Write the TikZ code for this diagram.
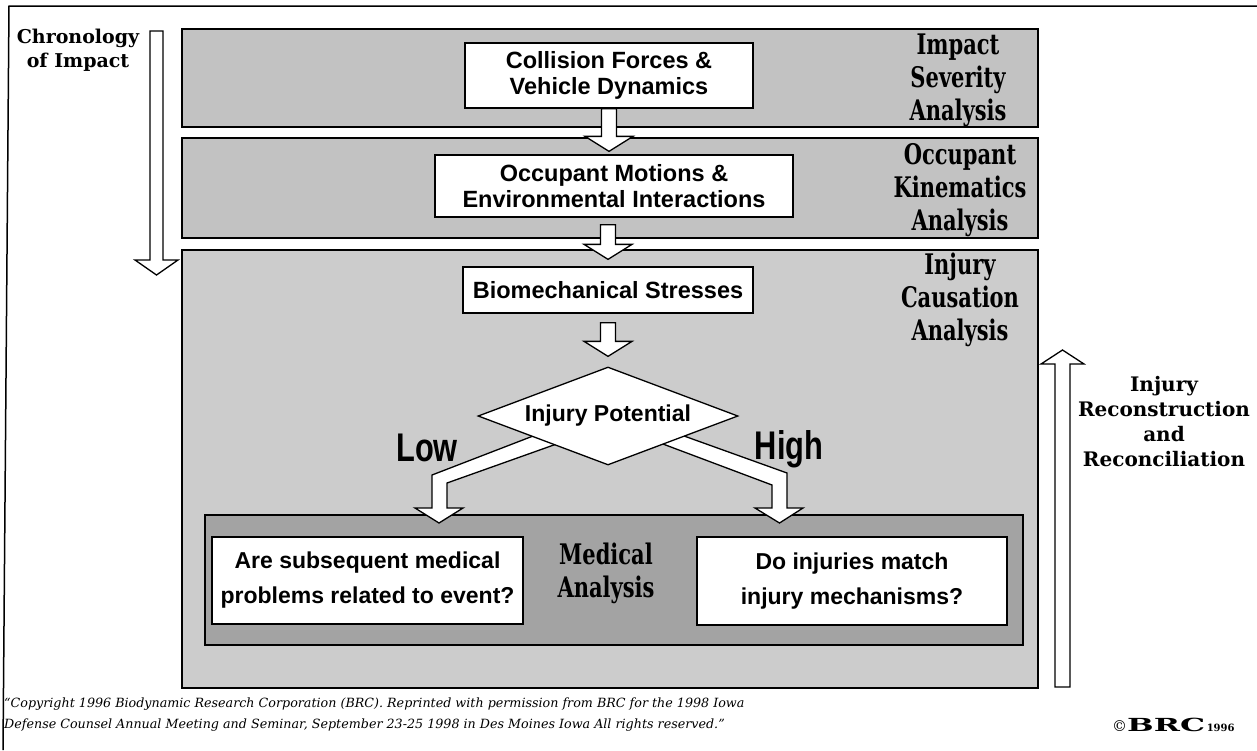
\documentclass[tikz,border=0pt]{standalone}
\usepackage{fontspec}
\usepackage{graphicx}
\setmainfont{DejaVu Serif}
\newfontfamily\lsans{Liberation Sans}
\usetikzlibrary{shapes.geometric,calc}
\definecolor{pA}{gray}{0.76}
\definecolor{pB}{gray}{0.80}
\definecolor{pM}{gray}{0.64}
\newcommand{\tall}[1]{\scalebox{1}[1.35]{#1}}
\newcommand{\blkdown}[5]{%
  \draw[barrow] let \p1=(#1.south), \p2=(#2.north), \p3=(#3.center) in
    (\x3-7.5pt,\y1-#4) -- (\x3+7.5pt,\y1-#4) -- (\x3+7.5pt,\y2+#5+15pt)
    -- (\x3+24pt,\y2+#5+15pt) -- (\x3,\y2+#5) -- (\x3-24pt,\y2+#5+15pt)
    -- (\x3-7.5pt,\y2+#5+15pt) -- cycle;}
\begin{document}
\begin{tikzpicture}[x=1pt,y=-1pt,
  panel/.style={draw, line width=2.4pt, fill=pA, minimum width=856pt, inner sep=0pt},
  medbox/.style={draw, line width=2pt, fill=pM, minimum width=818pt, minimum height=130pt, inner sep=0pt},
  wbox/.style={draw, line width=1.3pt, fill=white, inner sep=0pt, align=center,
     font=\lsans\bfseries\fontsize{23.5}{26}\selectfont},
  qbox/.style={wbox, font=\lsans\bfseries\fontsize{23}{35}\selectfont},
  lab/.style={align=center, inner sep=0pt, font=\bfseries\fontsize{21}{33}\selectfont},
  side/.style={align=center, inner sep=0pt},
  barrow/.style={draw, line width=1.3pt, fill=white, line join=miter},
  frame/.style={draw, line width=1.5pt}
]
\useasboundingbox (0,0) rectangle (1257,750);
\fill[white] (0,0) rectangle (1257,750);
% outer frame
\coordinate (fr1) at (1257,6);
\coordinate (fr2) at (9,6);
\coordinate (fr3) at (3,750);
\draw[frame] (fr1) -- (fr2) -- (fr3);

% panels
\node[panel, minimum height=98pt] (p1) at (610,78) {};
\node[panel, minimum height=100pt] (p2) at (610,188) {};
\node[panel, fill=pB, line width=1.8pt, minimum height=438pt] (p3) at (610,469) {};
\node[medbox] (med) at (614,580) {};

% white boxes
\node[wbox, minimum width=288pt, minimum height=65pt] (b1) at (609,75.5) {Collision Forces \&\\Vehicle Dynamics};
\node[wbox, minimum width=358pt, minimum height=62pt] (b2) at (614,186) {Occupant Motions \&\\Environmental Interactions};
\node[wbox, minimum width=290pt, minimum height=46pt] (b3) at (608,290) {Biomechanical Stresses};
\node[qbox, minimum width=311pt, minimum height=87pt] (lq) at (367.5,580.5) {Are subsequent medical\\problems related to event?};
\node[qbox, minimum width=310pt, minimum height=88pt] (rq) at (852,581) {Do injuries match\\injury mechanisms?};

% panel labels
\node[lab] (l1) at (958,80) {\tall{Impact}\\\tall{Severity}\\\tall{Analysis}};
\node[lab] (l2) at (960,190) {\tall{Occupant}\\\tall{Kinematics}\\\tall{Analysis}};
\node[lab] (l3) at (960,300) {\tall{Injury}\\\tall{Causation}\\\tall{Analysis}};
\node[lab] (ml) at (606,573) {\tall{Medical}\\\tall{Analysis}};

% bent arrows from the diamond
\draw[barrow] (559,426) -- (432,475) -- (432,508) -- (415,508) -- (439,523)
  -- (463,508) -- (447,508) -- (447,483) -- (579,436) -- cycle;
\draw[barrow] (659,427) -- (787,473) -- (787,508) -- (803,508) -- (779.5,523)
  -- (755,508) -- (772,508) -- (772,485) -- (639,435) -- cycle;

% diamond
\node[diamond, draw, fill=white, line width=1.3pt, aspect=2.65, minimum width=260pt, minimum height=98pt,
  inner sep=0pt, font=\lsans\bfseries\fontsize{23}{26}\selectfont] (d) at (608,416) {Injury Potential};

% block arrows between stages
\blkdown{b1}{b2}{b1}{0pt}{3pt}
\blkdown{b2}{b3}{b3}{7pt}{7pt}
\blkdown{b3}{d}{b3}{9pt}{10pt}

% Low / High
\node[inner sep=0pt, font=\lsans\bfseries\fontsize{40}{40}\selectfont] (low) at (427,448) {\scalebox{0.77}[1]{Low}};
\node[inner sep=0pt, font=\lsans\bfseries\fontsize{40}{40}\selectfont] (high) at (789,449) {\scalebox{0.77}[1]{High}};

% side arrows
\draw[barrow] (150,31) -- (163,31) -- (163,260) -- (178,260) -- (156.5,275) -- (135,260) -- (150,260) -- cycle;
\draw[barrow] (1055,687) -- (1070,687) -- (1070,364) -- (1084,364) -- (1062.5,350) -- (1041,364) -- (1055,364) -- cycle;

\node[side, font=\bfseries\fontsize{19}{24}\selectfont] (chron) at (78,50) {Chronology\\of Impact};
\node[side, font=\bfseries\fontsize{20}{25}\selectfont] (recon) at (1164,422) {Injury\\Reconstruction\\and\\Reconciliation};

% footer
\node[anchor=west, align=left, inner sep=0pt, font=\itshape\fontsize{12.7}{21}\selectfont] (copy) at (4,715)
  {“Copyright 1996 Biodynamic Research Corporation (BRC). Reprinted with permission from BRC for the 1998 Iowa\\
   Defense Counsel Annual Meeting and Seminar, September 23-25 1998 in Des Moines Iowa All rights reserved.”};
\node[anchor=west, inner sep=0pt] (brc) at (1112,725)
  {{\fontsize{15}{15}\selectfont ©}\scalebox{1.75}[1]{\bfseries\fontsize{18}{18}\selectfont BRC}\,{\bfseries\fontsize{10}{10}\selectfont 1996}};
\end{tikzpicture}
\end{document}
